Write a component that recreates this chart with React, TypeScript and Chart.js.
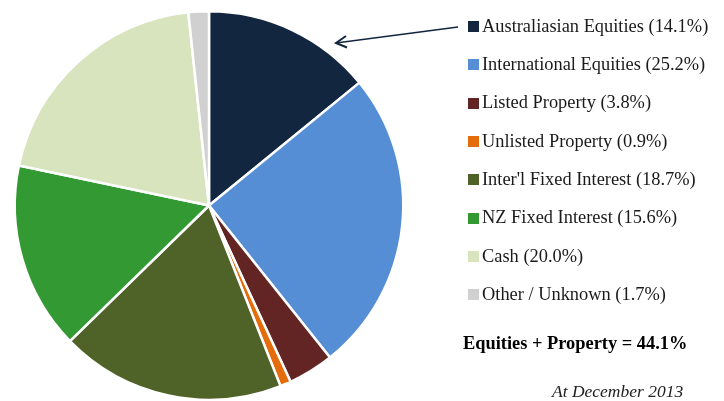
import React, { useEffect, useRef } from "react";
import { Chart, registerables } from "chart.js";

Chart.register(...registerables);

const categories = [
  "Australiasian Equities",
  "International Equities",
  "Listed Property",
  "Unlisted Property",
  "Inter'l Fixed Interest",
  "NZ Fixed Interest",
  "Cash",
  "Other / Unknown",
];
const values = [14.1, 25.2, 3.8, 0.9, 18.7, 15.6, 20.0, 1.7];
const colors = [
  "#12263F",
  "#558ED5",
  "#632523",
  "#E46C0A",
  "#4F6228",
  "#339933",
  "#D7E4BD",
  "#D0D0D0",
];
const summaryText = "Equities + Property = 44.1%";
const dateText = "At December 2013";

const overlayPlugin = {
  id: "overlay",
  afterDraw(chart: any) {
    const ctx = chart.ctx as CanvasRenderingContext2D;
    ctx.save();
    // legend
    ctx.font = "18.4px 'Liberation Serif', 'Times New Roman', serif";
    ctx.textBaseline = "middle";
    ctx.textAlign = "left";
    categories.forEach((c, i) => {
      const y = 26 + i * 38.3;
      ctx.fillStyle = colors[i];
      ctx.fillRect(468, Math.round(y) - 5, 11, 11);
      ctx.fillStyle = "#1a1a1a";
      ctx.fillText(`${c} (${values[i].toFixed(1)}%)`, 482, y + 1);
    });
    // summary
    ctx.font = "bold 18.4px 'Liberation Serif', 'Times New Roman', serif";
    ctx.textBaseline = "alphabetic";
    ctx.fillStyle = "#000";
    ctx.fillText(summaryText, 463, 349);
    ctx.font = "italic 17.5px 'Liberation Serif', 'Times New Roman', serif";
    ctx.fillStyle = "#222";
    ctx.fillText(dateText, 552, 397);
    // arrow
    ctx.strokeStyle = "#12263F";
    ctx.lineWidth = 1.6;
    ctx.beginPath();
    ctx.moveTo(458, 27);
    ctx.lineTo(336, 43);
    ctx.stroke();
    ctx.lineWidth = 2;
    ctx.beginPath();
    ctx.moveTo(346, 36);
    ctx.lineTo(336, 43);
    ctx.lineTo(347, 47.5);
    ctx.stroke();
    ctx.restore();
  },
};

export default function App() {
  const ref = useRef<HTMLCanvasElement>(null);
  useEffect(() => {
    document.body.style.margin = "0";
    const chart = new Chart(ref.current!, {
      type: "pie",
      data: {
        labels: categories,
        datasets: [
          {
            data: values,
            backgroundColor: colors,
            borderColor: "#ffffff",
            borderWidth: 2.5,
          },
        ],
      },
      options: {
        animation: false,
        responsive: false,
        layout: { padding: { left: 13, right: 319, top: 10, bottom: 0 } },
        plugins: {
          legend: { display: false },
          tooltip: { enabled: false },
        },
      },
      plugins: [overlayPlugin],
    });
    return () => chart.destroy();
  }, []);
  return (
    <div style={{ position: "absolute", left: 0, top: 0, width: 724, height: 401, background: "#fff" }}>
      <canvas ref={ref} width={724} height={401} style={{ display: "block" }} />
    </div>
  );
}
